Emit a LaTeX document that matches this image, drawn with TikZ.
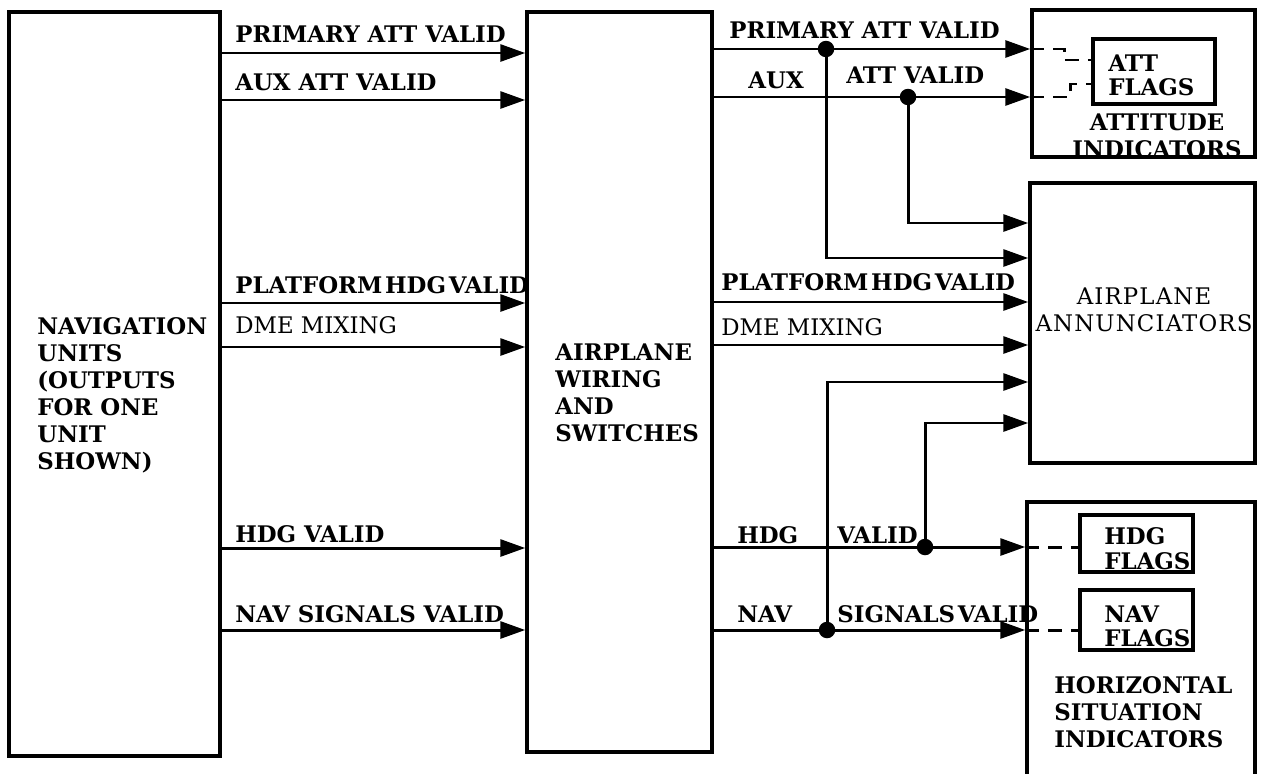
\documentclass[tikz,border=0pt]{standalone}
\usepackage{fontspec}
\setmainfont{DejaVu Serif}
\newfontfamily\spacedfont[LetterSpace=5]{DejaVu Serif}
\usetikzlibrary{arrows.meta, positioning, fit}

\tikzset{
  blk/.style={draw, line width=2pt, inner sep=0pt},
  sig/.style={line width=1.7pt, -{Triangle[length=0.5cm, width=0.34cm]}},
  flagline/.style={line width=1.7pt, dash pattern=on 8pt off 5pt},
  jdot/.style={circle, fill, inner sep=0pt, minimum size=0.33cm},
  lbl/.style={font=\fontsize{13}{15.4}\selectfont\bfseries, inner sep=0pt, anchor=base west},
  lblthin/.style={font=\fontsize{13}{15.4}\selectfont, inner sep=0pt, anchor=base west},
  blktext/.style={font=\fontsize{13}{15.4}\selectfont\bfseries, inner sep=0pt, align=left, anchor=north west},
}
\newcommand{\tsp}{\hspace{0.12em}}

\begin{document}
\begin{tikzpicture}[x=0.02cm, y=-0.02cm]
  \useasboundingbox (0,0) rectangle (1261,774);

  % blocks
  \node[blk, fit={(9,12) (220,756)}] (nav) {};
  \node[blk, fit={(527,12) (712,752)}] (wiring) {};
  \node[blk, fit={(1032,10) (1255,157)}] (att) {};
  \node[blk, fit={(1093,39) (1215,104)}] (attflag) {};
  \node[blk, fit={(1030,183) (1255,463)}] (ann) {};
  \node[blk, fit={(1027,502) (1255,785)}] (hsi) {};
  \node[blk, fit={(1080,515) (1193,572)}] (hdgflag) {};
  \node[blk, fit={(1080,590) (1193,650)}] (navflag) {};

  \node[blktext] (navtxt) at (37,317) {NAVIGATION\\UNITS\\(OUTPUTS\\FOR ONE\\UNIT\\SHOWN)};
  \node[blktext] (wiretxt) at (555,343) {AIRPLANE\\WIRING\\AND\\SWITCHES};
  \node[blktext, align=center, anchor=north] (atttxt) at (1157,113) {ATTITUDE\\INDICATORS};
  \node[blktext, font=\fontsize{13}{14.2}\selectfont\bfseries] (attflagtxt) at (1108,54) {ATT\\FLAGS};
  \node[inner sep=0pt, align=center, anchor=north, font=\fontsize{13}{15.8}\selectfont\spacedfont] (anntxt) at (1144,287) {AIRPLANE\\ANNUNCIATORS};
  \node[blktext] (hsitxt) at (1054,676) {HORIZONTAL\\SITUATION\\INDICATORS};
  \node[blktext, font=\fontsize{13}{14.2}\selectfont\bfseries] (hdgflagtxt) at (1104,527) {HDG\\FLAGS};
  \node[blktext, font=\fontsize{13}{14.2}\selectfont\bfseries] (navflagtxt) at (1104,605) {NAV\\FLAGS};

  % navigation units to wiring
  \foreach \y in {53,100,303,347,548,630}
    \draw[sig] (nav.east |- 0,\y) -- (wiring.west |- 0,\y);
  \node[lbl] (lpri) at (235,42) {PRIMARY ATT VALID};
  \node[lbl] (laux) at (235,90) {AUX ATT VALID};
  \node[lbl] (lplat) at (235,293) {PLATFORM\tsp HDG\tsp VALID};
  \node[lblthin] (ldme) at (235,333) {DME MIXING};
  \node[lbl] (lhdg) at (235,542) {HDG VALID};
  \node[lbl] (lnav) at (235,622) {NAV SIGNALS VALID};

  % wiring to indicators and annunciators
  \foreach \y in {49,97}
    \draw[sig] (wiring.east |- 0,\y) -- (att.west |- 0,\y);
  \foreach \y in {302,345}
    \draw[sig] (wiring.east |- 0,\y) -- (ann.west |- 0,\y);
  \foreach \y in {547,630}
    \draw[sig] (wiring.east |- 0,\y) -- (hsi.west |- 0,\y);

  \node[jdot] (d1) at (826,49) {};
  \node[jdot] (d2) at (908,97) {};
  \node[jdot] (d3) at (827,630) {};
  \node[jdot] (d4) at (925,547) {};
  \draw[sig] (d1.center) |- (ann.west |- 0,258);
  \draw[sig] (d2.center) |- (ann.west |- 0,223);
  \draw[sig] (d3.center) |- (ann.west |- 0,382);
  \draw[sig] (d4.center) |- (ann.west |- 0,423);

  \node[lbl] (rpri) at (729,38) {PRIMARY ATT VALID};
  \node[lbl] (raux) at (748,88) {AUX};
  \node[lbl] (ratt) at (846,83) {ATT VALID};
  \node[lbl] (rplat) at (721,290) {PLATFORM\tsp HDG\tsp VALID};
  \node[lblthin] (rdme) at (721,335) {DME MIXING};
  \node[lbl] (rhdg) at (737,543) {HDG};
  \node[lbl] (rhdgv) at (837,543) {VALID};
  \node[lbl] (rnav) at (737,622) {NAV};
  \node[lbl] (rnavv) at (837,622) {SIGNALS\tsp VALID};

  % flag links
  \draw[flagline] (att.west |- 0,49) -| (1064,60) -- (attflag.west |- 0,60);
  \draw[flagline] (att.west |- 0,97) -| (1070,84) -- (attflag.west |- 0,84);
  \draw[flagline] (hsi.west |- 0,547) -- (hdgflag.west |- 0,547);
  \draw[flagline] (hsi.west |- 0,630) -- (navflag.west |- 0,630);
\end{tikzpicture}
\end{document}
